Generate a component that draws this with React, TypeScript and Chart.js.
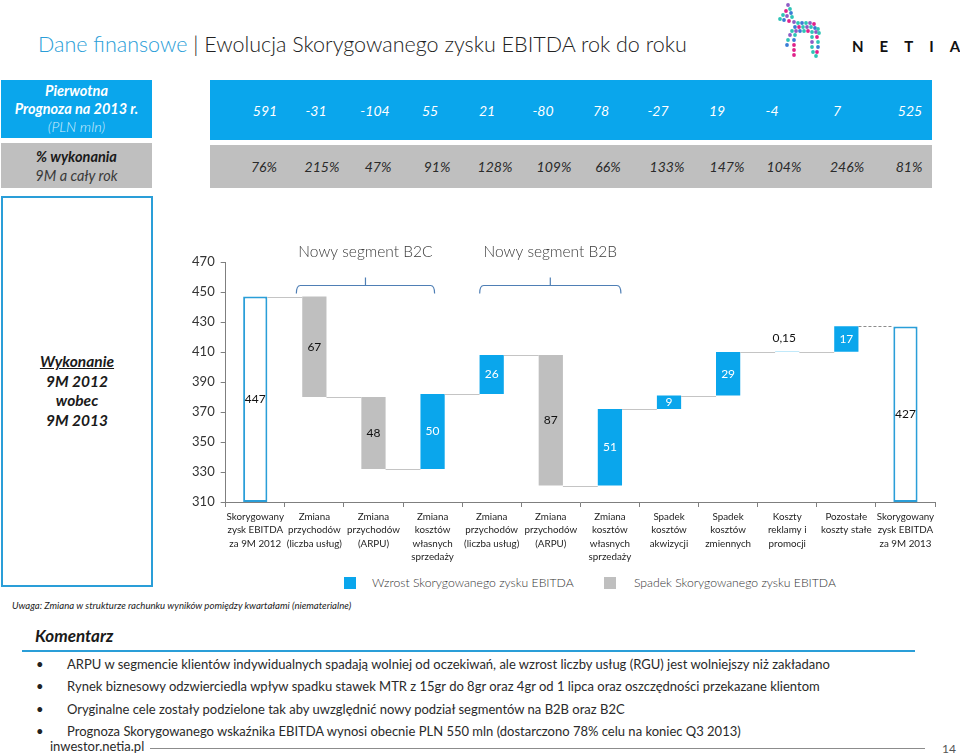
import React, { useEffect, useRef } from "react";
import { Chart, registerables } from "chart.js";

Chart.register(...registerables);

// ---------- DATA ----------
const categories: string[][] = [
  ["Skorygowany", "zysk EBITDA", "za 9M 2012"],
  ["Zmiana", "przychodów", "(liczba usług)"],
  ["Zmiana", "przychodów", "(ARPU)"],
  ["Zmiana", "kosztów", "własnych", "sprzedaży"],
  ["Zmiana", "przychodów", "(liczba usług)"],
  ["Zmiana", "przychodów", "(ARPU)"],
  ["Zmiana", "kosztów", "własnych", "sprzedaży"],
  ["Spadek", "kosztów", "akwizycji"],
  ["Spadek", "kosztów", "zmiennych"],
  ["Koszty", "reklamy i", "promocji"],
  ["Pozostałe", "koszty stałe"],
  ["Skorygowany", "zysk EBITDA", "za 9M 2013"],
];
const startTotal = 447;
const changes = [-67, -48, 50, 26, -87, 51, 9, 29, 0.15, 17];
const endTotal = 427;
const yTicks = [310, 330, 350, 370, 390, 410, 430, 450, 470];
const forecast = ["591", "-31", "-104", "55", "21", "-80", "78", "-27", "19", "-4", "7", "525"];
const completion = ["76%", "215%", "47%", "91%", "128%", "109%", "66%", "133%", "147%", "104%", "246%", "81%"];
const brackets = [
  { text: "Nowy segment B2C", from: 1, to: 3 },
  { text: "Nowy segment B2B", from: 4, to: 6 },
];
const bracketLevel = 455;
const legendItems = ["Wzrost Skorygowanego zysku EBITDA", "Spadek Skorygowanego zysku EBITDA"];
const comments = [
  "ARPU w segmencie klientów indywidualnych spadają wolniej od oczekiwań, ale wzrost liczby usług (RGU) jest wolniejszy niż zakładano",
  "Rynek biznesowy odzwierciedla wpływ spadku stawek MTR z 15gr do 8gr oraz 4gr od 1 lipca oraz oszczędności przekazane klientom",
  "Oryginalne cele zostały podzielone tak aby uwzględnić nowy podział segmentów na B2B oraz B2C",
  "Prognoza Skorygowanego wskaźnika EBITDA wynosi obecnie PLN 550 mln (dostarczono 78% celu na koniec Q3 2013)",
];

// ---------- STYLE / LAYOUT ----------
const BLUE = "#0AA6EC";
const BLUE_LINE = "#2A9ED8";
const GRAY = "#BFBFBF";
const FONT = 'Lato, "Noto Sans", sans-serif';
const forecastX = [265, 316, 375, 430, 487, 543, 601, 658, 717, 772, 837, 910];
const completionX = [264, 322, 378, 437, 495, 554, 608, 667, 727, 784, 847, 909];

const yMin = yTicks[0];
const yMax = yTicks[yTicks.length - 1];

type Kind = "total" | "up" | "down";
const ranges: [number, number][] = [];
const kinds: Kind[] = [];
const values: number[] = [];
ranges.push([yMin, startTotal]);
kinds.push("total");
values.push(startTotal);
let lvl = startTotal;
for (const d of changes) {
  ranges.push([lvl, lvl + d]);
  kinds.push(d >= 0 ? "up" : "down");
  values.push(d);
  lvl += d;
}
ranges.push([yMin, endTotal]);
kinds.push("total");
values.push(endTotal);

const fmt = (v: number) => String(Math.abs(v)).replace(".", ",");

const overlayPlugin = {
  id: "waterfallOverlay",
  afterDatasetsDraw(chart: any) {
    const ctx = chart.ctx;
    const meta = chart.getDatasetMeta(0);
    const ys = chart.scales.y;
    const xs = chart.scales.x;
    ctx.save();
    // connectors
    for (let i = 0; i < meta.data.length - 1; i++) {
      const a = meta.data[i];
      const b = meta.data[i + 1];
      const level = ranges[i][1];
      const py = Math.round(ys.getPixelForValue(level)) + 0.5;
      const last = i === meta.data.length - 2;
      ctx.beginPath();
      ctx.lineWidth = 1;
      ctx.strokeStyle = last ? "#8C8C8C" : "#C4C4C4";
      ctx.setLineDash(last ? [3, 2] : []);
      ctx.moveTo(a.x + a.width / 2, py);
      ctx.lineTo(b.x - b.width / 2, py);
      ctx.stroke();
    }
    ctx.setLineDash([]);
    // value labels
    ctx.font = `12px ${FONT}`;
    ctx.textAlign = "center";
    ctx.textBaseline = "middle";
    meta.data.forEach((bar: any, i: number) => {
      const top = Math.min(bar.y, bar.base);
      const h = Math.abs(bar.base - bar.y);
      const text = fmt(values[i]);
      if (h < 8) {
        ctx.fillStyle = "#111";
        ctx.fillText(text, bar.x - 3, top - 14);
      } else {
        ctx.fillStyle = kinds[i] === "up" ? "#ffffff" : "#111";
        ctx.fillText(text, bar.x, top + h / 2);
      }
    });
    // brackets
    const by = Math.round(ys.getPixelForValue(bracketLevel)) + 0.5;
    ctx.strokeStyle = "#4F7FB5";
    ctx.lineWidth = 1.2;
    brackets.forEach((br, k) => {
      const x1 = xs.getPixelForValue(br.from) - (k === 0 ? 18 : 12);
      const x2 = xs.getPixelForValue(br.to) + (k === 0 ? 2 : 11);
      const cx = (x1 + x2) / 2;
      ctx.beginPath();
      ctx.moveTo(x1, by + 8);
      ctx.quadraticCurveTo(x1, by, x1 + 4, by);
      ctx.lineTo(x2 - 4, by);
      ctx.quadraticCurveTo(x2, by, x2, by + 8);
      ctx.moveTo(cx, by);
      ctx.lineTo(cx, by - 8);
      ctx.stroke();
      ctx.fillStyle = "#3A3A3A";
      ctx.font = `300 15.5px ${FONT}`;
      ctx.fillText(br.text, cx, by - 34);
    });
    ctx.restore();
  },
};

function WaterfallChart() {
  const ref = useRef<HTMLCanvasElement | null>(null);
  useEffect(() => {
    if (!ref.current) return;
    const chart = new Chart(ref.current, {
      type: "bar",
      data: {
        labels: categories,
        datasets: [
          {
            data: ranges as any,
            backgroundColor: kinds.map((k) => (k === "total" ? "#ffffff" : k === "up" ? BLUE : GRAY)),
            borderColor: kinds.map((k) => (k === "total" ? BLUE_LINE : "rgba(0,0,0,0)")),
            borderWidth: kinds.map((k) => (k === "total" ? 2 : 0)),
            borderSkipped: false,
            barPercentage: 0.41,
            categoryPercentage: 1,
          },
        ],
      },
      options: {
        responsive: false,
        animation: false,
        layout: { padding: { top: 32, left: 0, right: 25, bottom: 0 } },
        plugins: { legend: { display: false }, tooltip: { enabled: false } },
        scales: {
          x: {
            grid: { drawOnChartArea: false, tickLength: 5, color: "#7F7F7F", offset: true },
            border: { color: "#7F7F7F", width: 1 },
            ticks: {
              autoSkip: false,
              maxRotation: 0,
              padding: 3,
              color: "#1E1E1E",
              font: { size: 9.8, family: FONT, lineHeight: 1.38 },
            },
            afterFit: (s: any) => {
              s.height = 68;
            },
          },
          y: {
            min: yMin,
            max: yMax,
            grid: { drawOnChartArea: false, tickLength: 5, color: "#7F7F7F" },
            border: { color: "#7F7F7F", width: 1 },
            ticks: {
              stepSize: yTicks[1] - yTicks[0],
              padding: 6,
              color: "#333",
              font: { size: 13, family: FONT },
            },
            afterFit: (s: any) => {
              s.width = 65.7;
            },
          },
        },
      },
      plugins: [overlayPlugin],
    } as any);
    return () => chart.destroy();
  }, []);
  return <canvas ref={ref} width={800} height={340} style={{ display: "block" }} />;
}

const horseDots: [number, number, string][] = [
  [16, 3, "#8E5CC4"], [18, 7, "#2EC4B6"], [14, 9, "#E0218A"], [19, 11, "#3A7BD5"], [11, 13, "#2EC4B6"],
  [15, 14, "#8E5CC4"], [20, 15, "#2EC4B6"], [8, 17, "#2EC4B6"], [12, 18, "#3A7BD5"], [17, 19, "#E0218A"],
  [22, 20, "#8E5CC4"], [26, 21, "#2EC4B6"], [30, 21, "#3A7BD5"], [34, 21, "#2EC4B6"], [38, 21, "#8E5CC4"],
  [42, 22, "#E0218A"], [23, 25, "#3A7BD5"], [27, 25, "#E0218A"], [31, 25, "#2EC4B6"], [35, 25, "#8E5CC4"],
  [39, 25, "#2EC4B6"], [43, 26, "#3A7BD5"], [46, 27, "#2EC4B6"], [20, 29, "#2EC4B6"], [24, 29, "#8E5CC4"],
  [28, 29, "#3A7BD5"], [32, 29, "#2EC4B6"], [36, 29, "#E0218A"], [40, 30, "#2EC4B6"], [44, 30, "#8E5CC4"],
  [47, 31, "#2EC4B6"], [18, 33, "#8E5CC4"], [23, 33, "#2EC4B6"], [16, 38, "#2EC4B6"], [22, 38, "#3A7BD5"],
  [15, 43, "#3A7BD5"], [22, 43, "#E0218A"], [22, 48, "#E0218A"], [22, 53, "#E0218A"], [40, 35, "#2EC4B6"],
  [45, 35, "#E0218A"], [40, 40, "#8E5CC4"], [46, 40, "#2EC4B6"], [40, 45, "#2EC4B6"], [46, 45, "#3A7BD5"],
  [41, 50, "#2EC4B6"], [45, 50, "#E0218A"], [44, 54, "#2EC4B6"],
];

export default function App() {
  const abs = (s: React.CSSProperties): React.CSSProperties => ({ position: "absolute", ...s });
  return (
    <div
      style={{
        position: "absolute",
        left: 0,
        top: 0,
        width: 960,
        height: 755,
        background: "#fff",
        fontFamily: FONT,
        overflow: "hidden",
      }}
    >
      {/* Title */}
      <div style={abs({ left: 38, top: 30, fontSize: 21.5, fontWeight: 300, whiteSpace: "nowrap", lineHeight: "28px" })}>
        <span style={{ color: "#2A9ED8" }}>Dane finansowe</span>
        <span style={{ color: "#222" }}> | Ewolucja Skorygowanego zysku EBITDA rok do roku</span>
      </div>
      {/* Logo */}
      <svg style={abs({ left: 772, top: 2 })} width={56} height={60}>
        {horseDots.map(([x, y, c], i) => (
          <circle key={i} cx={x} cy={y} r={1.9} fill={c} />
        ))}
      </svg>
      <div
        style={abs({
          left: 852,
          top: 37,
          fontSize: 15,
          fontWeight: 700,
          letterSpacing: 16,
          color: "#111",
          whiteSpace: "nowrap",
        })}
      >
        NETIA
      </div>

      {/* Row 1 */}
      <div
        style={abs({
          left: 1,
          top: 80,
          width: 151,
          height: 58,
          background: BLUE,
          color: "#fff",
          fontStyle: "italic",
          textAlign: "center",
          display: "flex",
          flexDirection: "column",
          justifyContent: "center",
          fontSize: 14.5,
          lineHeight: "18px",
        })}
      >
        <div style={{ fontWeight: 700 }}>Pierwotna</div>
        <div style={{ fontWeight: 700 }}>Prognoza na 2013 r.</div>
        <div style={{ fontWeight: 300, color: "#D2EEFC" }}>(PLN mln)</div>
      </div>
      <div style={abs({ left: 210, top: 80, width: 722, height: 60, background: BLUE })} />
      {forecast.map((t, i) => (
        <div
          key={"f" + i}
          style={abs({
            left: forecastX[i] - 30,
            top: 102,
            width: 60,
            textAlign: "center",
            color: "#fff",
            fontStyle: "italic",
            fontSize: 14,
            lineHeight: "18px",
          })}
        >
          {t}
        </div>
      ))}

      {/* Row 2 */}
      <div
        style={abs({
          left: 1,
          top: 143,
          width: 151,
          height: 45,
          background: GRAY,
          fontStyle: "italic",
          textAlign: "center",
          display: "flex",
          flexDirection: "column",
          justifyContent: "center",
          fontSize: 14.5,
          lineHeight: "19px",
        })}
      >
        <div style={{ fontWeight: 700, color: "#1A1A1A" }}>% wykonania</div>
        <div style={{ color: "#3A3A3A" }}>9M a cały rok</div>
      </div>
      <div style={abs({ left: 210, top: 145, width: 722, height: 43, background: GRAY })} />
      {completion.map((t, i) => (
        <div
          key={"c" + i}
          style={abs({
            left: completionX[i] - 30,
            top: 158,
            width: 60,
            textAlign: "center",
            color: "#2A2A2A",
            fontStyle: "italic",
            fontSize: 14,
            lineHeight: "18px",
          })}
        >
          {t}
        </div>
      ))}

      {/* Row 3 left box */}
      <div
        style={abs({
          left: 1,
          top: 196,
          width: 148,
          height: 387,
          border: `2px solid ${BLUE_LINE}`,
          boxSizing: "content-box",
        })}
      />
      <div
        style={abs({
          left: 1,
          top: 352,
          width: 152,
          textAlign: "center",
          fontStyle: "italic",
          fontWeight: 700,
          fontSize: 15.5,
          lineHeight: "19.5px",
          color: "#1A1A1A",
        })}
      >
        <div style={{ textDecoration: "underline" }}>Wykonanie</div>
        <div>9M 2012</div>
        <div>wobec</div>
        <div>9M 2013</div>
      </div>

      {/* Chart */}
      <div style={abs({ left: 160, top: 230, width: 800, height: 340 })}>
        <WaterfallChart />
      </div>

      {/* Legend */}
      <div style={abs({ left: 344, top: 577, width: 12, height: 12, background: BLUE })} />
      <div
        style={abs({ left: 372, top: 574, fontSize: 12.2, fontWeight: 300, color: "#333", whiteSpace: "nowrap", lineHeight: "18px" })}
      >
        {legendItems[0]}
      </div>
      <div style={abs({ left: 604, top: 577, width: 12, height: 12, background: GRAY })} />
      <div
        style={abs({ left: 634, top: 574, fontSize: 12.2, fontWeight: 300, color: "#333", whiteSpace: "nowrap", lineHeight: "18px" })}
      >
        {legendItems[1]}
      </div>

      {/* Note */}
      <div style={abs({ left: 12, top: 600, fontSize: 9.6, fontStyle: "italic", color: "#222", whiteSpace: "nowrap" })}>
        Uwaga: Zmiana w strukturze rachunku wyników pomiędzy kwartałami (niematerialne)
      </div>

      {/* Komentarz */}
      <div style={abs({ left: 35, top: 625, fontSize: 17, fontWeight: 700, fontStyle: "italic", color: "#1A1A1A", lineHeight: "22px" })}>
        Komentarz
      </div>
      <div style={abs({ left: 22, top: 650, width: 893, height: 2, background: BLUE_LINE })} />
      {comments.map((c, i) => (
        <React.Fragment key={"k" + i}>
          <div style={abs({ left: 36, top: 655 + i * 22.3, fontSize: 13, color: "#222", lineHeight: "18px" })}>•</div>
          <div
            style={abs({
              left: 67,
              top: 655 + i * 22.3,
              fontSize: 13,
              color: "#2A2A2A",
              whiteSpace: "nowrap",
              lineHeight: "18px",
            })}
          >
            {c}
          </div>
        </React.Fragment>
      ))}

      {/* Footer */}
      <div style={abs({ left: 50, top: 737, fontSize: 13, color: "#2A2A2A", lineHeight: "18px" })}>inwestor.netia.pl</div>
      <div style={abs({ left: 150, top: 748, width: 775, height: 1, background: "#8C8C8C" })} />
      <div style={abs({ left: 942, top: 741, fontSize: 12, color: "#555", lineHeight: "16px" })}>14</div>
    </div>
  );
}
